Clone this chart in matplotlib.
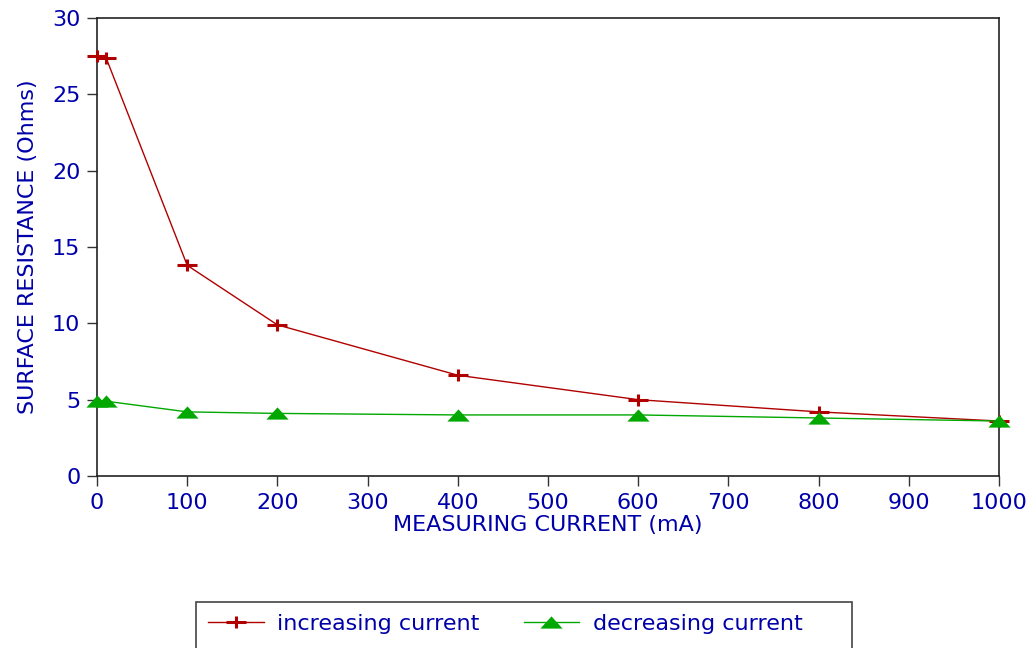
import matplotlib
matplotlib.use("Agg")
import matplotlib.pyplot as plt
from matplotlib.patches import Rectangle
from matplotlib.lines import Line2D
from matplotlib.path import Path

current_ma = [0, 10, 100, 200, 400, 600, 800, 1000]
increasing = [27.5, 27.4, 13.8, 9.9, 6.6, 5.0, 4.2, 3.6]
decreasing = [4.9, 4.9, 4.2, 4.1, 4.0, 4.0, 3.8, 3.6]
x_ticks = list(range(0, 1001, 100))
y_ticks = list(range(0, 31, 5))

TEXT = "#0000aa"
RED = "#b00000"
GREEN = "#00a800"

# flattened plus and flattened triangle markers
plus_mark = Path([(-1, 0), (1, 0), (0, -0.6), (0, 0.6)],
                 [Path.MOVETO, Path.LINETO, Path.MOVETO, Path.LINETO])
tri_mark = Path([(-1, -0.55), (1, -0.55), (0, 0.55), (-1, -0.55)],
                [Path.MOVETO, Path.LINETO, Path.LINETO, Path.CLOSEPOLY])

plus_kw = dict(marker=plus_mark, ms=15, mew=2.2, mec=RED)
tri_kw = dict(marker=tri_mark, ms=16, mew=0, mfc=GREEN)

fig = plt.figure(figsize=(10.36, 6.48), dpi=100)
ax = fig.add_axes([97 / 1036, 1 - 476 / 648, (999 - 97) / 1036, (476 - 18) / 648])

ax.plot(current_ma, increasing, color=RED, lw=1.0, zorder=3, clip_on=False, **plus_kw)
ax.plot(current_ma, decreasing, color=GREEN, lw=1.0, zorder=3, clip_on=False, **tri_kw)

ax.set_xlim(0, 1000)
ax.set_ylim(0, 30)
ax.set_xticks(x_ticks)
ax.set_yticks(y_ticks)
ax.tick_params(direction="out", length=7, width=1, colors="#333333",
               labelcolor=TEXT, labelsize=16, pad=5)
for s in ax.spines.values():
    s.set_color("#222222")
    s.set_linewidth(1.2)

ax.set_xlabel("MEASURING CURRENT (mA)", color=TEXT, fontsize=16, labelpad=2)
ax.set_ylabel("SURFACE RESISTANCE (Ohms)", color=TEXT, fontsize=16, labelpad=10)

# legend frame running off the bottom edge
fig.patches.append(Rectangle((196 / 1036, -0.02), (852 - 196) / 1036, (650 - 602) / 648 + 0.02 - 2 / 648,
                             transform=fig.transFigure, fill=False, edgecolor="#444444", lw=1.2))
handles = [
    Line2D([], [], color=RED, lw=1.0, **plus_kw),
    Line2D([], [], color=GREEN, lw=1.0, **tri_kw),
]
fig.legend(handles, ["increasing current", "decreasing current"], loc="center left",
           bbox_to_anchor=(208 / 1036, 1 - 624 / 648), ncol=2, frameon=False,
           fontsize=16, labelcolor=TEXT, handlelength=2.5, columnspacing=2.0,
           handletextpad=0.6, borderpad=0, borderaxespad=0)

fig.savefig("out.png", dpi=100)
